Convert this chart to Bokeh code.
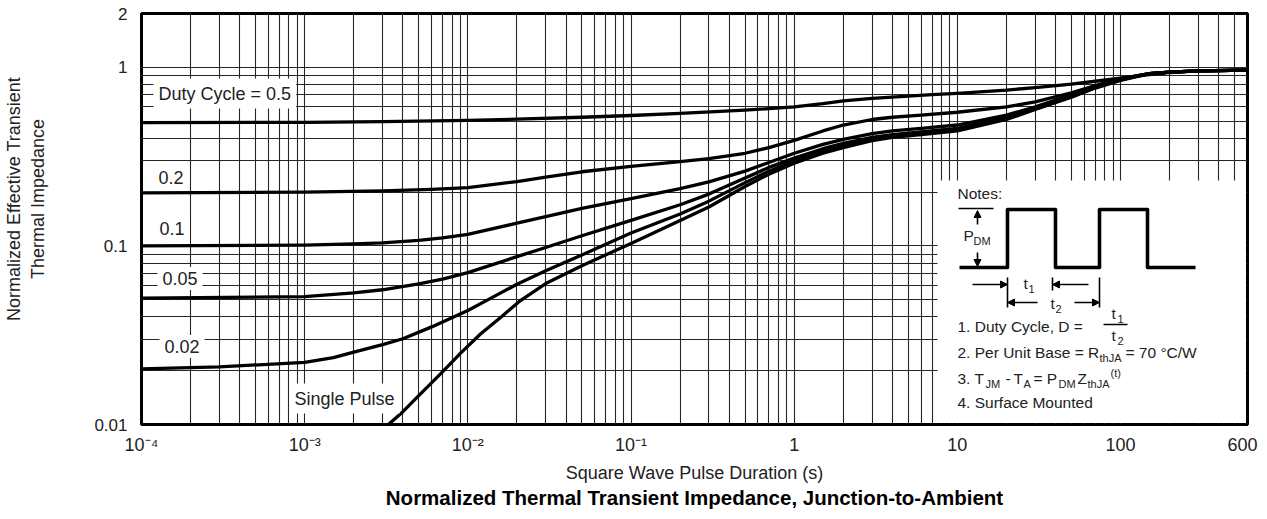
import math
from bokeh.plotting import figure
from bokeh.models import Range1d, FixedTicker, CustomJSTickFormatter, Label, Arrow, NormalHead, Title
from bokeh.embed import file_html
from bokeh.resources import INLINE

# ---------------- data ----------------
t_d50 = [1e-4, 1e-3, 3e-3, 1e-2, 2e-2, 5e-2, 0.1, 0.2, 0.5, 1, 1.5, 2, 3, 5, 7, 10, 20, 30, 50, 70, 100, 150, 200, 300, 600]
z_d50 = [0.490, 0.492, 0.496, 0.504, 0.512, 0.525, 0.537, 0.552, 0.575, 0.600, 0.625, 0.648, 0.670, 0.690, 0.702, 0.715, 0.745, 0.770, 0.805, 0.835, 0.870, 0.910, 0.935, 0.955, 0.965]

t_d20 = [1e-4, 1e-3, 3e-3, 6e-3, 1e-2, 2e-2, 3e-2, 5e-2, 0.1, 0.2, 0.3, 0.5, 0.7, 1, 1.5, 2, 3, 4, 6, 10, 20, 30, 50, 70, 100, 150, 200, 300, 600]
z_d20 = [0.198, 0.200, 0.203, 0.207, 0.212, 0.229, 0.243, 0.260, 0.279, 0.296, 0.308, 0.330, 0.355, 0.390, 0.440, 0.475, 0.510, 0.525, 0.540, 0.560, 0.600, 0.640, 0.720, 0.790, 0.865, 0.920, 0.940, 0.955, 0.965]

t_d10 = [1e-4, 1e-3, 2e-3, 3e-3, 5e-3, 7e-3, 1e-2, 2e-2, 3e-2, 5e-2, 0.1, 0.2, 0.3, 0.5, 0.7, 1, 1.5, 2, 3, 4, 6, 10, 20, 30, 50, 70, 100, 150, 200, 300, 600]
z_d10 = [0.100, 0.101, 0.1025, 0.104, 0.1075, 0.111, 0.116, 0.134, 0.146, 0.162, 0.184, 0.209, 0.228, 0.262, 0.293, 0.330, 0.370, 0.395, 0.425, 0.440, 0.455, 0.475, 0.540, 0.600, 0.700, 0.780, 0.860, 0.920, 0.940, 0.955, 0.965]

t_d05 = [1e-4, 1e-3, 2e-3, 3e-3, 5e-3, 7e-3, 1e-2, 2e-2, 3e-2, 5e-2, 0.1, 0.2, 0.3, 0.5, 0.7, 1, 1.5, 2, 3, 4, 6, 10, 20, 30, 50, 70, 100, 150, 200, 300, 600]
z_d05 = [0.051, 0.052, 0.0545, 0.0568, 0.0612, 0.0652, 0.0708, 0.087, 0.098, 0.114, 0.139, 0.170, 0.195, 0.240, 0.275, 0.310, 0.350, 0.375, 0.405, 0.420, 0.435, 0.455, 0.525, 0.590, 0.690, 0.775, 0.855, 0.920, 0.940, 0.955, 0.965]

t_d02 = [1e-4, 3e-4, 1e-3, 1.5e-3, 2e-3, 3e-3, 4e-3, 6e-3, 1e-2, 1.5e-2, 2e-2, 3e-2, 5e-2, 0.1, 0.2, 0.3, 0.5, 0.7, 1, 1.5, 2, 3, 4, 6, 10, 20, 30, 50, 70, 100, 150, 200, 300, 600]
z_d02 = [0.0205, 0.021, 0.0223, 0.0237, 0.0254, 0.028, 0.0302, 0.0352, 0.0435, 0.053, 0.061, 0.0725, 0.089, 0.118, 0.151, 0.178, 0.226, 0.262, 0.300, 0.340, 0.365, 0.395, 0.412, 0.428, 0.448, 0.520, 0.585, 0.685, 0.770, 0.850, 0.920, 0.940, 0.955, 0.965]

t_single = [0.0031, 0.004, 0.005, 0.0068, 0.009, 0.012, 0.016, 0.021, 0.03, 0.05, 0.065, 0.1, 0.2, 0.3, 0.5, 0.7, 1, 1.5, 2, 3, 4, 6, 10, 20, 30, 50, 70, 100, 150, 200, 300, 600]
z_single = [0.0096, 0.0118, 0.0145, 0.0192, 0.025, 0.0322, 0.040, 0.0494, 0.0615, 0.0775, 0.0864, 0.103, 0.1387, 0.165, 0.215, 0.252, 0.290, 0.330, 0.355, 0.388, 0.405, 0.420, 0.440, 0.510, 0.580, 0.680, 0.765, 0.845, 0.920, 0.940, 0.955, 0.965]

x_tick_values = [1e-4, 1e-3, 1e-2, 1e-1, 1, 10, 100, 600]
x_tick_labels = ["10\u207b\u2074", "10\u207b\u00b3", "10\u207b\u00b2", "10\u207b\u00b9", "1", "10", "100", "600"]
y_tick_values = [0.01, 0.1, 1, 2]
y_tick_labels = ["0.01", "0.1", "1", "2"]

curve_names = ["Duty Cycle = 0.5", "0.2", "0.1", "0.05", "0.02", "Single Pulse"]

x_title = "Square Wave Pulse Duration (s)"
y_title_1 = "Normalized Effective Transient"
y_title_2 = "Thermal Impedance"
chart_title = "Normalized Thermal Transient Impedance, Junction-to-Ambient"

# ---------------- layout ----------------
X_MIN, X_MAX = 1e-4, 600
Y_MIN, Y_MAX = 0.01, 2
W, H = 1267, 519
BL, BR, BT, BB = 141, 20, 13, 95
FW, FH = W - BL - BR, H - BT - BB

LX0, LX1 = math.log10(X_MIN), math.log10(X_MAX)
LY0, LY1 = math.log10(Y_MIN), math.log10(Y_MAX)


def X(fx):
    """frame-relative pixel -> data x (for the schematic inset only)"""
    return 10 ** (LX0 + fx / FW * (LX1 - LX0))


def Y(fy):
    """frame-relative pixel from the top -> data y (for the schematic inset only)"""
    return 10 ** (LY1 - fy / FH * (LY1 - LY0))


FONT = "Liberation Sans"
TXT = "#222222"

p = figure(width=W, height=H, x_axis_type="log", y_axis_type="log",
           x_range=Range1d(X_MIN, X_MAX), y_range=Range1d(Y_MIN, Y_MAX),
           output_backend="svg", toolbar_location=None, title=None,
           min_border_left=BL, min_border_right=BR, min_border_top=BT, min_border_bottom=BB)
p.background_fill_color = "white"
p.border_fill_color = "white"
p.outline_line_color = "black"
p.outline_line_width = 3

fmt_code = """
const lt = Math.log10(tick);
for (let i = 0; i < vals.length; i++) {
  if (Math.abs(Math.log10(vals[i]) - lt) < 1e-6) {
    if (pad && i == vals.length - 1) { return labs[i] + '\\u00a0\\u00a0'; }
    return labs[i];
  }
}
return '';
"""

xa = p.xaxis[0]
xa.ticker = FixedTicker(ticks=x_tick_values, minor_ticks=[])
xa.formatter = CustomJSTickFormatter(args=dict(vals=x_tick_values, labs=x_tick_labels, pad=True), code=fmt_code)
ya = p.yaxis[0]
ya.ticker = FixedTicker(ticks=y_tick_values, minor_ticks=[])
ya.formatter = CustomJSTickFormatter(args=dict(vals=y_tick_values, labs=y_tick_labels, pad=False), code=fmt_code)
for ax, fs, so in ((xa, "18px", 10), (ya, "17px", 14)):
    ax.axis_line_color = None
    ax.major_tick_line_color = None
    ax.minor_tick_line_color = None
    ax.major_tick_in = 0
    ax.major_tick_out = 0
    ax.major_label_text_font = FONT
    ax.major_label_text_font_size = fs
    ax.major_label_text_color = TXT
    ax.major_label_standoff = so
    ax.axis_label_text_font = FONT
    ax.axis_label_text_font_size = "18px"
    ax.axis_label_text_font_style = "normal"
    ax.axis_label_text_color = TXT

xa.axis_label = x_title
xa.axis_label_standoff = 5
NB = "\u00a0"
ya.axis_label = NB * 8 + y_title_1 + "\n" + NB * 8 + y_title_2
ya.axis_label_standoff = 43

p.add_layout(Title(text=chart_title, align="center", vertical_align="top", text_font=FONT,
                   text_font_size="20.5px", text_font_style="bold", text_color="black", standoff=0), "below")

xgrid_vals = [m * 10.0 ** k for k in range(-4, 3) for m in range(1, 10) if m * 10.0 ** k < 600]
ygrid_vals = [m * 10.0 ** k for k in range(-2, 0) for m in range(1, 10)] + [1.0]
p.xgrid.ticker = FixedTicker(ticks=xgrid_vals, minor_ticks=[])
p.ygrid.ticker = FixedTicker(ticks=ygrid_vals, minor_ticks=[])
for g in (p.xgrid, p.ygrid):
    g.grid_line_color = "#262626"
    g.grid_line_width = 1.1
    g.grid_line_alpha = 1.0

# ---------------- curves ----------------
for ts, zs in ((t_d50, z_d50), (t_d20, z_d20), (t_d10, z_d10), (t_d05, z_d05), (t_d02, z_d02), (t_single, z_single)):
    p.line(ts, zs, line_color="black", line_width=3.3, line_join="round", line_cap="round")

# ---------------- curve labels ----------------
label_pos = [(12, 80), (12, 164), (13, 215), (16, 265), (18, 333), (148, 385)]
for name, (fx, fy) in zip(curve_names, label_pos):
    p.add_layout(Label(x=X(fx), y=Y(fy), text=name, text_font=FONT, text_font_size="18px",
                       text_color=TXT, text_align="left", text_baseline="middle",
                       background_fill_color="white", padding=5))

# ---------------- inset (notes) ----------------
p.quad(left=X(796), right=X(FW - 1.5), top=Y(167), bottom=Y(FH - 1.5),
       fill_color="white", line_color=None)

wave_fx = [818, 866, 866, 914, 914, 958, 958, 1006, 1006, 1054]
wave_fy = [254, 254, 196, 196, 254, 254, 196, 196, 254, 254]
p.line([X(v) for v in wave_fx], [Y(v) for v in wave_fy], line_color="black", line_width=3.6, line_join="round")

seg = [  # (fx0, fy0, fx1, fy1)
    (817, 195, 852, 195),
    (866, 264, 866, 294),
    (911, 264, 911, 277),
    (958, 264, 958, 294),
    (962, 311, 986, 311),
]
p.segment(x0=[X(s[0]) for s in seg], y0=[Y(s[1]) for s in seg],
          x1=[X(s[2]) for s in seg], y1=[Y(s[3]) for s in seg],
          line_color="black", line_width=1.6)

arrows = [  # from (fx0, fy0) to head (fx1, fy1)
    (836, 211, 836, 197),
    (836, 239, 836, 253),
    (831, 271, 866, 271),
    (947, 271, 911, 271),
    (896, 289, 866, 289),
    (933, 289, 958, 289),
]
for a in arrows:
    p.add_layout(Arrow(end=NormalHead(size=7, fill_color="black", line_color="black", line_width=1),
                       x_start=X(a[0]), y_start=Y(a[1]), x_end=X(a[2]), y_end=Y(a[3]),
                       line_color="black", line_width=1.6))


def txt(fx, fy, s, size="15.5px", align="left"):
    p.add_layout(Label(x=X(fx), y=Y(fy), text=s, text_font=FONT, text_font_size=size,
                       text_color=TXT, text_align=align, text_baseline="middle"))


SUB = "11px"
txt(816, 180, "Notes:")
txt(822, 222, "P"); txt(832, 227, "DM", SUB)
txt(882, 270, "t"); txt(887, 275, "1", SUB)
txt(909, 290, "t"); txt(914, 295, "2", SUB)
txt(816, 313, "1. Duty Cycle, D =")
txt(970, 300, "t"); txt(976, 305, "1", SUB)
txt(970, 322, "t"); txt(976, 327, "2", SUB)
txt(816, 339, "2. Per Unit Base = R"); txt(958, 344, "thJA", SUB); txt(984, 339, "= 70 \u00b0C/W")
txt(816, 365, "3. T"); txt(844, 370, "JM", SUB); txt(864, 365, "-"); txt(872, 365, "T"); txt(882, 370, "A", SUB)
txt(892, 365, "= P"); txt(917, 370, "DM", SUB); txt(936, 365, "Z"); txt(946, 370, "thJA", SUB); txt(969, 359, "(t)", SUB)
txt(816, 389, "4. Surface Mounted")

open("out.html", "w").write(file_html(p, INLINE))
